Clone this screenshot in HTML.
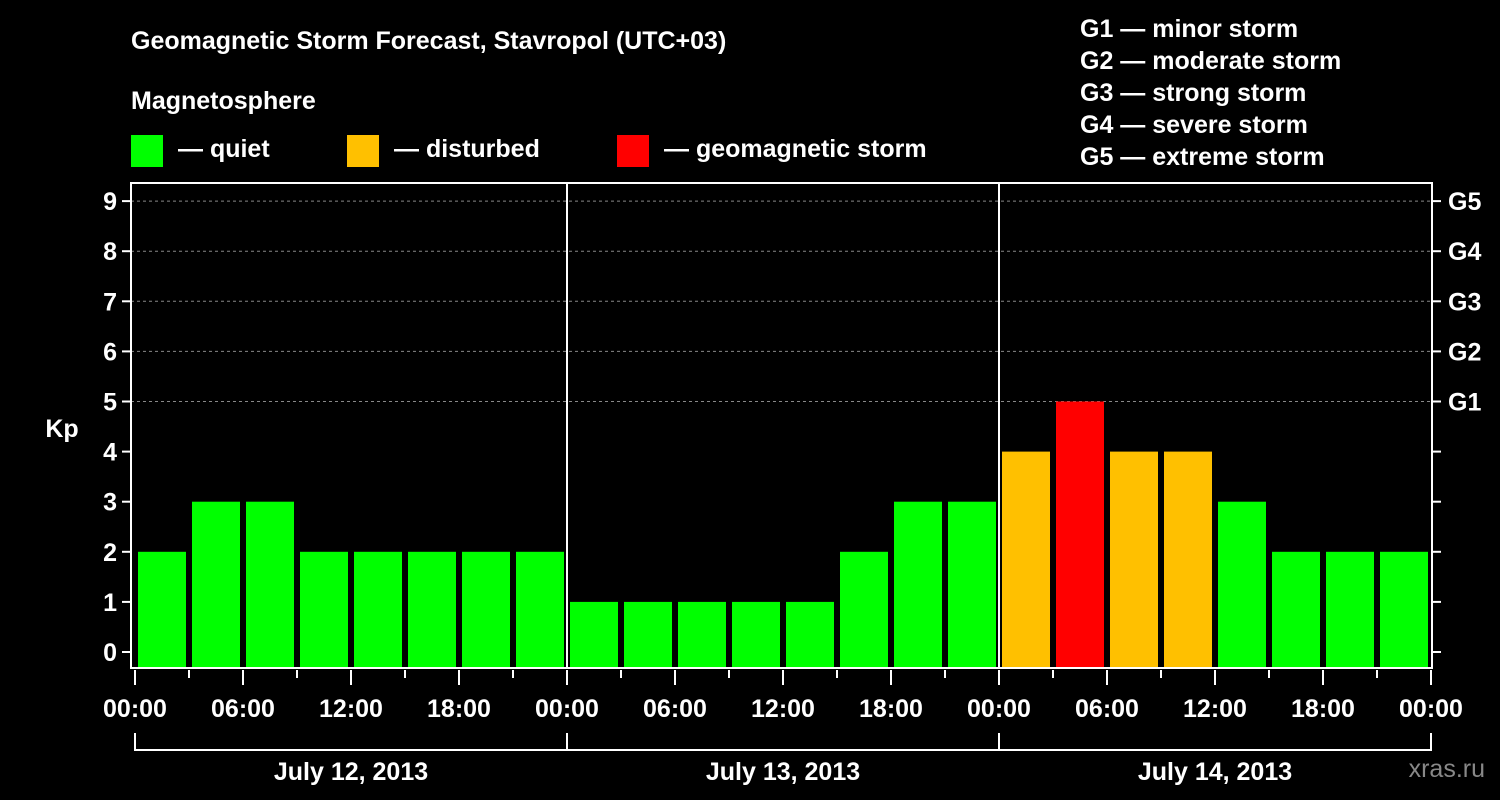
<!DOCTYPE html>
<html><head><meta charset="utf-8"><style>
body{margin:0;background:#000;}
svg{display:block;font-family:"Liberation Sans",sans-serif;font-weight:bold;}
</style></head><body>
<svg id="c" width="1500" height="800" viewBox="0 0 1500 800">
<rect width="1500" height="800" fill="#000"/>
<text x="131" y="49" fill="#fff" font-size="25">Geomagnetic Storm Forecast, Stavropol (UTC+03)</text>
<text x="131" y="109" fill="#fff" font-size="25">Magnetosphere</text>
<g><rect x="131" y="135" width="32" height="32" fill="#00ff00"/><text x="178" y="157" fill="#fff" font-size="25">— quiet</text></g>
<g><rect x="347" y="135" width="32" height="32" fill="#ffc000"/><text x="394" y="157" fill="#fff" font-size="25">— disturbed</text></g>
<g><rect x="617" y="135" width="32" height="32" fill="#ff0000"/><text x="664" y="157" fill="#fff" font-size="25">— geomagnetic storm</text></g>
<g fill="#fff" font-size="25">
<text x="1080" y="37">G1 — minor storm</text>
<text x="1080" y="69">G2 — moderate storm</text>
<text x="1080" y="101">G3 — strong storm</text>
<text x="1080" y="133">G4 — severe storm</text>
<text x="1080" y="165">G5 — extreme storm</text>
</g>
<text x="62" y="437" fill="#fff" font-size="25" text-anchor="middle">Kp</text>
<text x="1485" y="777" fill="#888" font-size="25" text-anchor="end" font-weight="normal">xras.ru</text>
<g id="grid"></g><g id="bars"></g><g id="axes"></g>
</svg>
<script>
const values=[2,3,3,2,2,2,2,2,1,1,1,1,1,2,3,3,4,5,4,4,3,2,2,2];
const yTicks=[0,1,2,3,4,5,6,7,8,9];
const gLabels=["G1","G2","G3","G4","G5"];
const days=["July 12, 2013","July 13, 2013","July 14, 2013"];
const hourLabels=["00:00","06:00","12:00","18:00"];
const NS="http://www.w3.org/2000/svg";
const L=131,R=1432,T=183,B=668,X0=135,DAY=432;
const y=v=>652-v*50.1;
const x=h=>X0+h*DAY/24;
function mk(t,a,p){const e=document.createElementNS(NS,t);for(const k in a)e.setAttribute(k,a[k]);p.appendChild(e);return e;}
const grid=document.getElementById('grid'),bars=document.getElementById('bars'),axes=document.getElementById('axes');
for(let v=5;v<=9;v++){const l=mk('line',{x1:L,x2:R,y1:y(v),y2:y(v),stroke:'#888','stroke-dasharray':'3,3','stroke-width':1},grid);

}
values.forEach((v,i)=>{const c=v>=5?'#ff0000':v>=4?'#ffc000':'#00ff00';
const r=mk('rect',{x:x(i*3)+3,y:y(v),width:48,height:B-y(v),fill:c},bars);

});
const frame=mk('rect',{x:L,y:T,width:R-L,height:B-T,fill:'none',stroke:'#fff','stroke-width':2},axes);


for(let d=1;d<days.length;d++){const l=mk('line',{x1:x(d*24),x2:x(d*24),y1:T,y2:B,stroke:'#fff','stroke-width':2},axes);

}
yTicks.forEach(v=>{mk('line',{x1:L-9,x2:L,y1:y(v),y2:y(v),stroke:'#fff','stroke-width':2},axes);
mk('line',{x1:R,x2:R+9,y1:y(v),y2:y(v),stroke:'#fff','stroke-width':2},axes);
const t=mk('text',{x:L-14,y:y(v)+9,fill:'#fff','font-size':25,'text-anchor':'end'},axes);t.textContent=v;

});
gLabels.forEach((g,i)=>{const t=mk('text',{x:1448,y:y(5+i)+9,fill:'#fff','font-size':25},axes);t.textContent=g;

});
for(let h=0;h<=72;h+=3){const long=h%6===0;mk('line',{x1:x(h),x2:x(h),y1:B+2,y2:long?B+17:B+10,stroke:'#fff','stroke-width':2},axes);
if(long){const t=mk('text',{x:x(h),y:717,fill:'#fff','font-size':25,'text-anchor':'middle'},axes);t.textContent=hourLabels[(h/6)%4];

}}
mk('path',{d:`M${x(0)} 733V750H${x(72)}V733`,fill:'none',stroke:'#fff','stroke-width':2},axes);
days.forEach((d,i)=>{mk('line',{x1:x(i*24),x2:x(i*24),y1:733,y2:750,stroke:'#fff','stroke-width':2},axes);
const t=mk('text',{x:x(i*24+12),y:780,fill:'#fff','font-size':25,'text-anchor':'middle'},axes);t.textContent=d;

});
</script>
</body></html>
